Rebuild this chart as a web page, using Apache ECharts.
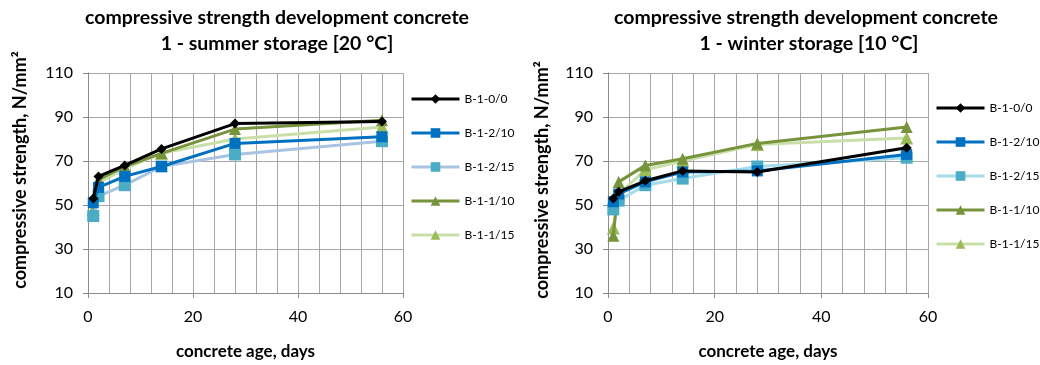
<!DOCTYPE html>
<html><head><meta charset="utf-8">
<script src="https://cdn.jsdelivr.net/npm/echarts@6/dist/echarts.min.js"></script>
<style>html,body{margin:0;padding:0;background:#fff}#c{width:1040px;height:365px}</style>
</head><body><div id="c"></div>
<script>
var days = [1, 2, 7, 14, 28, 56];
var seriesNames = ['B-1-0/0', 'B-1-2/10', 'B-1-2/15', 'B-1-1/10', 'B-1-1/15'];
var xTicks = [0, 20, 40, 60];
var yTicks = [10, 30, 50, 70, 90, 110];
var titleLine1 = 'compressive strength development concrete';
var titleSummer = '1 - summer storage [20 °C]';
var titleWinter = '1 - winter storage [10 °C]';
var xName = 'concrete age, days';
var yName = 'compressive strength, N/mm²';
// summer storage [20 °C]
var summer_B100 = [53, 63, 68, 75.5, 87, 88];
var summer_B1210 = [51, 58, 63, 67.5, 78, 81];
var summer_B1215 = [45, 54, 59, 67.5, 73, 79];
var summer_B1110 = [46, 61.5, 67.5, 73.5, 84.5, 88.5];
var summer_B1115 = [48, 60, 66.5, 73.5, 80, 85.5];
// winter storage [10 °C]
var winter_B100 = [53, 56, 61, 65.5, 65, 76];
var winter_B1210 = [51.5, 55, 60.5, 65, 65.5, 73];
var winter_B1215 = [48, 52, 59, 62, 67.5, 71.5];
var winter_B1110 = [36, 60.5, 68, 71, 78, 85.5];
var winter_B1115 = [39.5, 55, 66, 70, 77.5, 80.5];

var FONT = 'Lato';
function pts(v){ return days.map(function(d,i){ return [d, v[i]]; }); }
function styles(light15){
  return [
    {line:'#000000', mark:'#000000', sym:'diamond', size:10},
    {line:'#0070C0', mark:'#0070C0', sym:'rect', size:11},
    {line:light15, mark:'#4BACC6', sym:'rect', size:12},
    {line:'#77933C', mark:'#77933C', sym:'triangle', size:12},
    {line:'#C9DFA9', mark:'#9BBB59', sym:'triangle', size:13}
  ];
}
var stS = styles('#A9C4E2'), stW = styles('#A6DCEA');
function mkSeries(data, st, idx){
  return seriesNames.map(function(n,i){
    return {name:n, type:'line', xAxisIndex:idx, yAxisIndex:idx, data:pts(data[i]),
      symbol:st[i].sym, symbolSize:st[i].size,
      lineStyle:{color:st[i].line, width:3}, itemStyle:{color:st[i].mark},
      z: 10 - i, animation:false};
  });
}
function mkLegend(st, left, top){
  return {orient:'vertical', left:left, top:top, itemWidth:48, itemHeight:12, itemGap:22,
    padding:0, selectedMode:false,
    data:seriesNames.map(function(n,i){
      return {name:n, itemStyle:{color:st[i].mark}, lineStyle:{color:st[i].line, width:3}};
    }),
    textStyle:{fontFamily:FONT, fontSize:12, color:'#000'}};
}
function mkX(idx){
  return {type:'value', gridIndex:idx, min:xTicks[0], max:xTicks[xTicks.length-1], interval:20,
    name:xName, nameLocation:'middle', nameGap:50,
    nameTextStyle:{fontFamily:FONT, fontWeight:'bold', fontSize:17, color:'#000'},
    axisLine:{show:true, lineStyle:{color:'#8c8c8c', width:1}},
    axisTick:{show:true, length:5, lineStyle:{color:'#8c8c8c'}},
    axisLabel:{fontFamily:FONT, fontSize:16, color:'#000', margin:16},
    splitLine:{show:true, lineStyle:{color:'#a6a6a6', width:1}},
    minorTick:{show:false, splitNumber:5},
    minorSplitLine:{show:true, lineStyle:{color:'#a6a6a6', width:1}}};
}
function mkY(idx){
  return {type:'value', gridIndex:idx, min:yTicks[0], max:yTicks[yTicks.length-1], interval:20,
    axisLine:{show:true, lineStyle:{color:'#8c8c8c', width:1}},
    axisTick:{show:true, length:5, lineStyle:{color:'#8c8c8c'}},
    axisLabel:{fontFamily:FONT, fontSize:16, color:'#000', margin:15},
    splitLine:{show:true, lineStyle:{color:'#a6a6a6', width:1}}};
}
function txt(x, y, s, size, rot){
  return {type:'text', x:x, y:y, rotation:rot||0, silent:true,
    style:{text:s, fontFamily:FONT, fontWeight:'bold', fontSize:size, fill:'#000',
      textAlign:'center', textVerticalAlign:'middle'}};
}
var chart = echarts.init(document.getElementById('c'));
chart.setOption({
  animation:false,
  textStyle:{fontFamily:FONT},
  grid:[{left:88, top:73, width:315, height:224}, {left:608, top:73, width:320, height:226}],
  xAxis:[mkX(0), mkX(1)],
  yAxis:[mkY(0), mkY(1)],
  legend:[mkLegend(stS, 410, 93), mkLegend(stW, 935, 102)],
  graphic:[
    txt(277, 18, titleLine1, 19.5), txt(277, 44, titleSummer, 19.5),
    txt(806, 18, titleLine1, 19.5), txt(809, 44, titleWinter, 19.5),
    txt(20, 170, yName, 18, Math.PI/2), txt(542, 180, yName, 18, Math.PI/2)
  ],
  series:mkSeries([summer_B100, summer_B1210, summer_B1215, summer_B1110, summer_B1115], stS, 0)
    .concat(mkSeries([winter_B100, winter_B1210, winter_B1215, winter_B1110, winter_B1115], stW, 1))
});
</script></body></html>
